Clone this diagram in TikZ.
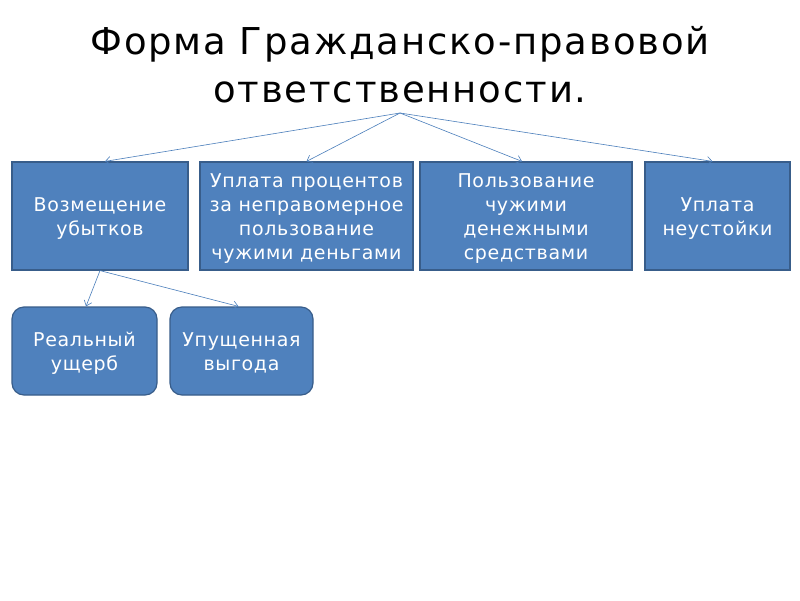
\documentclass[tikz,border=0pt]{standalone}
\usepackage{fontspec}
\setmainfont{DejaVu Sans}
\newfontfamily\boxfont[LetterSpace=3.5]{DejaVu Sans}
\newfontfamily\titlefont[LetterSpace=5]{DejaVu Sans}
\usetikzlibrary{arrows.meta}
\definecolor{boxfill}{HTML}{4F81BD}
\definecolor{boxedge}{HTML}{385D8A}
\definecolor{linkc}{HTML}{4A7EBB}
\tikzset{
  box/.style={draw=boxedge, line width=1.2pt, fill=boxfill, inner sep=0pt},
  rbox/.style={box, rounded corners=12pt},
  boxtext/.style={text=white, align=center, font=\boxfont\fontsize{19}{24}\selectfont, inner sep=0pt},
  link/.style={draw=linkc, line width=0.6pt, -{Straight Barb[length=5pt,width=8pt]}}
}
\begin{document}
\begin{tikzpicture}[x=1pt,y=-1pt]
\useasboundingbox[fill=white] (0,0) rectangle (800,600);
\node[font=\titlefont\fontsize{37}{48}\selectfont, align=center] (title) at (400,65) {Форма Гражданско-правовой\\ответственности.};
\coordinate (top) at (400,113);
\node[box, minimum width=176pt, minimum height=108pt] (b1) at (100,216) {};
\node[box, minimum width=213pt, minimum height=108pt] (b2) at (306.5,216) {};
\node[box, minimum width=212pt, minimum height=108pt] (b3) at (526,216) {};
\node[box, minimum width=145pt, minimum height=108pt] (b4) at (717.5,216) {};
\node[rbox, minimum width=145pt, minimum height=88pt] (c1) at (84.5,351) {};
\node[rbox, minimum width=143pt, minimum height=88pt] (c2) at (241.5,351) {};
\node[boxtext] (t1) at (100,219) {Возмещение\\убытков};
\node[boxtext] (t2) at (306.5,219) {Уплата процентов\\за неправомерное\\пользование\\чужими деньгами};
\node[boxtext] (t3) at (526,219) {Пользование\\чужими\\денежными\\средствами};
\node[boxtext] (t4) at (717.5,219) {Уплата\\неустойки};
\node[boxtext] (t5) at (84.5,353) {Реальный\\ущерб};
\node[boxtext] (t6) at (241.5,353) {Упущенная\\выгода};
\draw[link] (top) -- ([xshift=5pt]b1.north);
\draw[link] (top) -- (b2.north);
\draw[link] (top) -- ([xshift=-4pt]b3.north);
\draw[link] (top) -- ([xshift=-5pt]b4.north);
\draw[link] (b1.south) -- ([xshift=1.5pt]c1.north);
\draw[link] (b1.south) -- ([xshift=-3pt]c2.north);
\end{tikzpicture}
\end{document}
